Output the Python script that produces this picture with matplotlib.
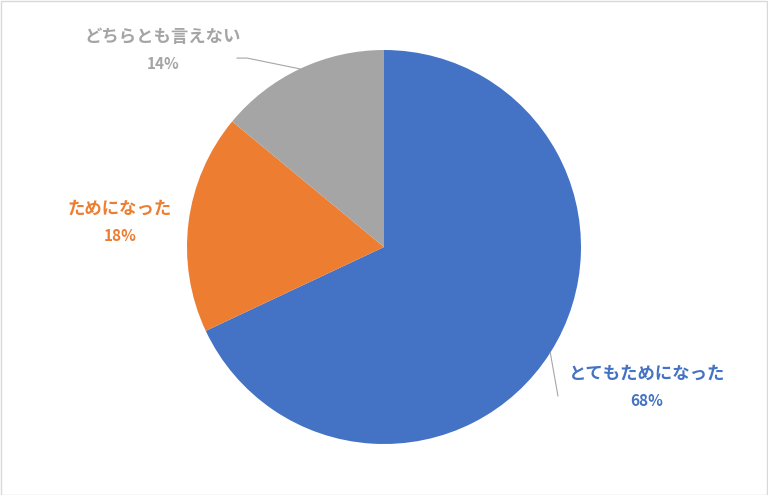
import matplotlib.pyplot as plt
import matplotlib.patches as mpatches

plt.rcParams['font.family'] = ['Noto Sans CJK JP', 'DejaVu Sans']

# data
labels = ['とてもためになった', 'ためになった', 'どちらとも言えない']
values = [68, 18, 14]
colors = ['#4472C4', '#ED7D31', '#A5A5A5']

W, H = 768, 495
fig = plt.figure(figsize=(W / 100, H / 100), dpi=100)

# pie axes: centre (384, 247) px from top, radius 197 px
cx, cy, r = 384, H - 247, 197
ax = fig.add_axes([(cx - r) / W, (cy - r) / H, 2 * r / W, 2 * r / H])

ax.pie(values, colors=colors, startangle=90, counterclock=False, radius=1,
       wedgeprops=dict(linewidth=0))
# pie() resets the limits, so set them after
ax.set_xlim(-1, 1)
ax.set_ylim(-1, 1)
ax.set_aspect('equal')
ax.axis('off')

# label positions (data coords, pie radius = 1)
label_pos = [(1.335, -0.645), (-1.34, 0.193), (-1.122, 1.066)]
for (x, y), lab, val, col in zip(label_pos, labels, values, colors):
    ax.text(x, y, lab, ha='center', va='center', fontsize=12.5, fontweight='bold',
            color=col, clip_on=False)
    ax.text(x, y - 0.135, f'{val}%', ha='center', va='center', fontsize=11,
            fontweight='bold', color=col, clip_on=False)

# leader lines
ax.plot([-0.746, -0.695, -0.426], [0.959, 0.959, 0.904], color='#A6A6A6',
        lw=0.8, clip_on=False)
ax.plot([0.844, 0.883], [-0.536, -0.756], color='#A6A6A6', lw=0.8, clip_on=False)

# chart border
fig.patches.append(mpatches.Rectangle((0.5 / W, 0.5 / H), 1 - 1.5 / W, 1 - 1.5 / H,
                                      transform=fig.transFigure, fill=False,
                                      edgecolor='#D9D9D9', linewidth=1))

plt.savefig('out.png', dpi=100, facecolor='white')
